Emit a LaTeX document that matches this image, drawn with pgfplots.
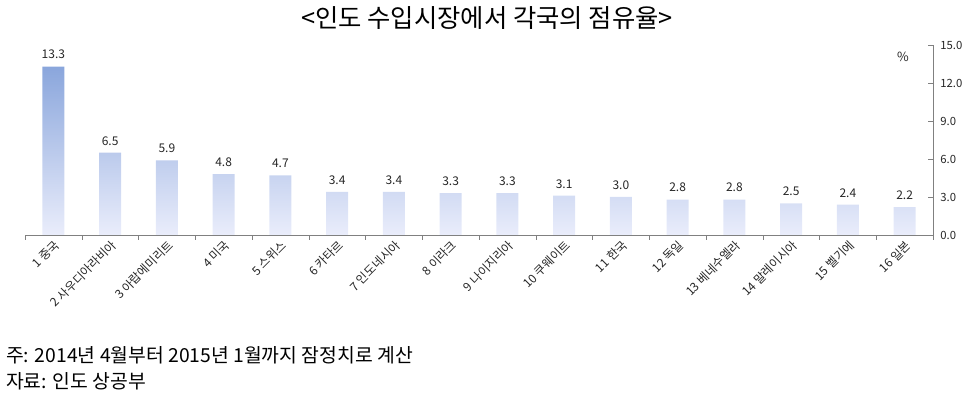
\documentclass[border=0pt]{standalone}
\usepackage{pgfplots}
\pgfplotsset{compat=1.18}
\usepackage{fontspec}
\setmainfont{Noto Sans CJK KR}
\definecolor{bartop}{RGB}{138,166,220}
\definecolor{barbot}{RGB}{234,237,251}
\definecolor{axgray}{RGB}{128,128,128}
\begin{document}
\begin{tikzpicture}
\path[use as bounding box] (0pt,0pt) rectangle (730.5pt,299.25pt);
\node at (365.25pt,285.5pt) {\fontsize{19pt}{21pt}\selectfont <인도 수입시장에서 각국의 점유율>};
\node[anchor=west] at (1pt,33pt) {\fontsize{14.5pt}{16pt}\selectfont 주: 2014년 4월부터 2015년 1월까지 잠정치로 계산};
\node[anchor=west] at (1pt,13.5pt) {\fontsize{14.5pt}{16pt}\selectfont 자료: 인도 상공부};
\begin{axis}[
  at={(18.75pt,123pt)}, anchor=south west,
  scale only axis, width=681pt, height=142.5pt,
  xmin=-0.5, xmax=15.5, ymin=0, ymax=15,
  axis x line*=bottom, axis y line*=right,
  axis line style={draw=axgray, line width=0.6pt},
  /pgf/number format/assume math mode=true,
  xtick={0,...,15},
  xticklabels={1 중국,2 사우디아라비아,3 아랍에미리트,4 미국,5 스위스,6 카타르,7 인도네시아,8 이라크,9 나이지리아,10 쿠웨이트,11 한국,12 독일,13 베네수엘라,14 말레이시아,15 벨기에,16 일본},
  xticklabel style={xshift=3pt, yshift=-6pt, rotate=45, anchor=east, font=\fontsize{9pt}{10pt}\selectfont, text=black!85, inner sep=0pt},
  major x tick style={draw=none},
  minor xtick={-0.5,0.5,...,15.5},
  minor x tick style={draw=axgray, yshift=-3.5pt},
  minor tick length=3.5pt,
  ytick={0,3,...,15},
  major tick length=3.5pt,
  tick align=inside,
  y tick style={draw=axgray},
  yticklabel style={/pgf/number format/.cd, fixed, fixed zerofill, precision=1, /tikz/.cd, font=\fontsize{8.5pt}{10pt}\selectfont, text=black!85, xshift=2pt},
  clip=false,
]
\addplot[ybar, bar width=16.5pt, draw=none, top color=bartop, bottom color=barbot,
  nodes near coords={\pgfmathprintnumber[fixed,fixed zerofill,precision=1]{\pgfplotspointmeta}},
  every node near coord/.append style={font=\fontsize{9pt}{10pt}\selectfont, text=black!85, yshift=2pt}]
  coordinates {(0,13.3) (1,6.5) (2,5.9) (3,4.8) (4,4.7) (5,3.4) (6,3.4) (7,3.3) (8,3.3) (9,3.1) (10,3.0) (11,2.8) (12,2.8) (13,2.5) (14,2.4) (15,2.2)};
\node[font=\fontsize{9.5pt}{10pt}\selectfont, text=black!85] at (rel axis cs:0.967,0.935) {\%};
\end{axis}
\end{tikzpicture}
\end{document}
